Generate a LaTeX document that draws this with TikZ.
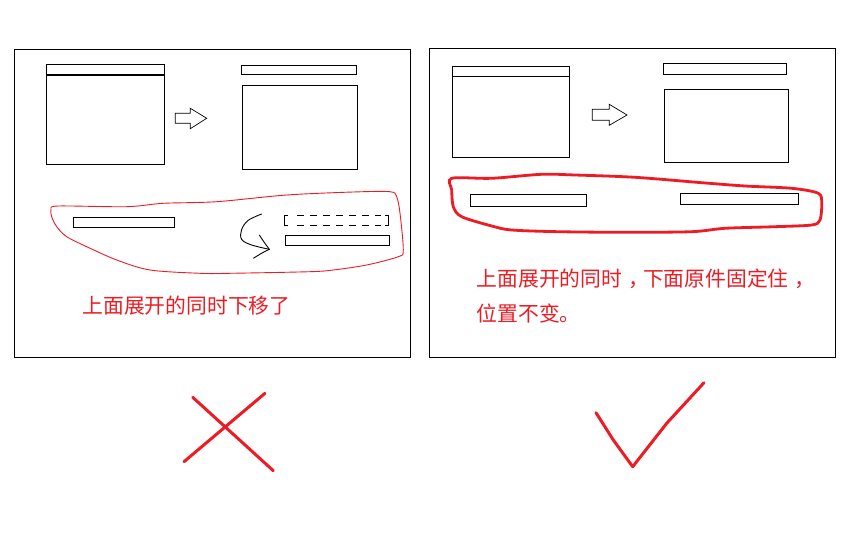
\documentclass[tikz,border=0pt]{standalone}
\usepackage{fontspec}
\newfontfamily\cjk{Noto Sans CJK SC}
\definecolor{pred}{HTML}{ED1C24}
\newcommand{\cjkcomma}{\hspace*{0.3em}，\hspace*{-0.3em}}
\tikzset{
  box/.style={draw=black, line width=0.9pt},
  frame/.style={draw=black, line width=1pt},
  blobthin/.style={draw=pred, line width=0.9pt},
  blobthick/.style={draw=pred, line width=2.8pt, line join=round},
  strokemark/.style={draw=pred, line width=3pt, line cap=round, line join=round},
  redtext/.style={text=pred, font=\cjk\fontsize{20.8pt}{24pt}\selectfont, inner sep=0pt, anchor=west},
  dashbox/.style={draw=black, line width=0.9pt, dash pattern=on 7pt off 6pt},
}
\begin{document}
\begin{tikzpicture}[x=1pt,y=-1pt]
\useasboundingbox (0,0) rectangle (864,540);
\fill[white] (0,0) rectangle (864,540);
% ===== Left panel =====
\draw[frame] (14.3,49.3) rectangle (410.7,357.3);
\draw[box] (46.3,64.3) rectangle (164.7,164.3);
\draw[black, line width=2pt] (46.3,74.7) -- (164.7,74.7);
\draw[box, line width=0.7pt] (175.3,113.3) -- (190.3,113.3) -- (190.3,108.3) -- (206.7,118.3) -- (190.3,128.7) -- (190.3,123.3) -- (175.3,123.3) -- cycle;
\draw[box] (241.3,65) rectangle (356.7,74.3);
\draw[box] (242.3,85.3) rectangle (357.7,169.3);
\draw[blobthin] plot[smooth cycle, tension=0.5] coordinates {
 (51,209.3) (58.3,206) (126.7,206.7) (163.3,203.3) (216.7,201.7) (286.7,195) (353.3,192) (390,191.7) (396.7,196.7) (400,213.3) (403.3,250) (398.3,256.7) (366.7,265) (333.3,270) (310,271.7) (230,273.3) (200,273.3) (150,270) (116.7,260) (86.7,246.7) (66.7,236.7) (56.7,226.7) (51.7,216.7)};
\draw[box] (73.3,217.3) rectangle (174.7,227.3);
% dashed bar
\draw[box] (288,215) -- (284.3,215) -- (284.3,225.3) -- (288,225.3);
\draw[box] (385,215) -- (388.7,215) -- (388.7,225.3) -- (385,225.3);
\draw[dashbox] (297,215) -- (381,215);
\draw[dashbox] (297,225.3) -- (381,225.3);
\draw[box] (285.3,235.3) rectangle (389.7,245.7);
% curved arrow
\draw[black, line width=0.9pt] plot[smooth, tension=0.6] coordinates {(261.7,214) (248,220.5) (241.5,230) (241.7,239.5) (251.7,245) (269.3,249.3)};
\draw[black, line width=0.9pt] (259.3,235) -- (264,242) -- (269.3,249.3) -- (262,253) -- (253.3,258.3);
\node[redtext] (t1) at (82.3,306) {上面展开的同时下移了};
% ===== Right panel =====
\draw[frame] (429.3,48.3) rectangle (835.7,357.3);
\draw[box] (452.3,66.3) rectangle (569.7,157.3);
\draw[box] (452.3,76.3) -- (569.7,76.3);
\draw[box, line width=0.7pt] (592.3,109.3) -- (609.3,109.3) -- (609.3,104.3) -- (627,115) -- (609.3,125.3) -- (609.3,120.3) -- (592.3,120.3) -- cycle;
\draw[box] (663.3,63.3) rectangle (786.7,74.3);
\draw[box] (664.3,89.3) rectangle (788.3,162.3);
\draw[blobthick] plot[smooth cycle, tension=0.5] coordinates {
 (451.7,178.3) (491.7,178.3) (541.7,174.3) (575,175) (635,177.3) (701.7,182.7) (745,186) (791.7,188.3) (818.3,193.3) (821.7,203.3) (820,220) (811.7,225) (775,226.7) (725,228.3) (691.7,231.7) (625,232.3) (558.3,231.7) (511.7,230) (491.7,226) (461.7,216.7) (453.3,206.7) (451.7,190)};
\draw[box] (470.3,194.3) rectangle (586.7,206.3);
\draw[box] (680.3,193.3) rectangle (798.3,204.3);
\node[redtext] (t2) at (476.5,279.3) {上面展开的同时\cjkcomma 下面原件固定住\cjkcomma};
\node[redtext] (t3) at (476.5,314) {位置不变。};
% ===== marks =====
\draw[strokemark] (192.7,397.3) -- (273.3,470.7);
\draw[strokemark] (265,393.3) -- (184,461.7);
\draw[strokemark] (596,412.7) -- (613.3,440) -- (632.7,466.7) -- (666.7,423.3) -- (704,382.7);
\end{tikzpicture}
\end{document}
